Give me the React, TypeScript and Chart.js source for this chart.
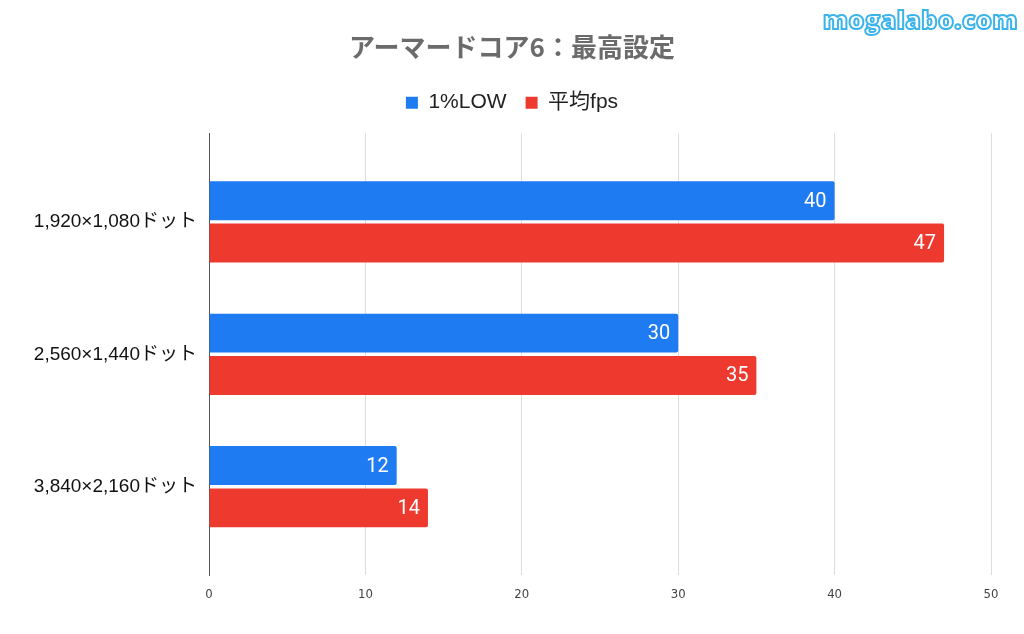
import React, { useEffect, useRef } from "react";
import { Chart, registerables } from "chart.js";

Chart.register(...registerables);

const categories = ["1,920×1,080ドット", "2,560×1,440ドット", "3,840×2,160ドット"];
const seriesNames = ["1%LOW", "平均fps"];
const lowValues = [40, 30, 12];
const avgValues = [47, 35, 14];
const xTicks = [0, 10, 20, 30, 40, 50];
const titleText = "アーマードコア6：最高設定";
const watermark = "mogalabo.com";

const BLUE = "#1e7bf2";
const RED = "#ee3a2e";
const FONT = "'Liberation Sans', Arial, 'Noto Sans CJK JP', sans-serif";

const valueLabels = {
  id: "valueLabels",
  afterDatasetsDraw(chart: any) {
    const ctx = chart.ctx;
    ctx.save();
    ctx.fillStyle = "#ffffff";
    ctx.font = "20px Roboto, sans-serif";
    ctx.textAlign = "right";
    ctx.textBaseline = "middle";
    chart.data.datasets.forEach((ds: any, i: number) => {
      const meta = chart.getDatasetMeta(i);
      meta.data.forEach((bar: any, j: number) => {
        const v = ds.data[j].x;
        ctx.fillText(String(v), bar.x - 8, bar.y + 1);
      });
    });
    ctx.restore();
  },
};

const legendGap = {
  id: "legendGap",
  afterInit(chart: any) {
    const lg = chart.legend;
    if (lg) {
      const orig = lg.fit;
      lg.fit = function () {
        orig.call(this);
        this.height += 10;
      };
    }
  },
};

export default function App() {
  const ref = useRef<HTMLCanvasElement>(null);
  useEffect(() => {
    document.body.style.margin = "0";
    const c = ref.current!;
    const chart = new Chart(c, {
      type: "bar",
      data: {
        datasets: [
          {
            label: seriesNames[0],
            data: lowValues.map((v, i) => ({ x: v, y: i })),
            backgroundColor: BLUE,
            borderRadius: 2,
            borderSkipped: "start",
          },
          {
            label: seriesNames[1],
            data: avgValues.map((v, i) => ({ x: v, y: i })),
            backgroundColor: RED,
            borderRadius: 2,
            borderSkipped: "start",
          },
        ],
      },
      options: {
        indexAxis: "y",
        animation: false,
        responsive: false,
        maintainAspectRatio: false,
        categoryPercentage: 0.64,
        barPercentage: 0.92,
        layout: { padding: { left: 0, right: 0, top: 0, bottom: 21 } },
        plugins: {
          title: {
            display: true,
            text: titleText,
            color: "#6b6b6b",
            font: { family: "'Noto Sans CJK JP', sans-serif", size: 26, weight: "bold" },
            padding: { top: 32, bottom: 10 },
          },
          legend: {
            display: true,
            labels: {
              color: "#222222",
              font: { family: FONT, size: 21 },
              boxWidth: 12,
              boxHeight: 12,
              padding: 19,
            },
          },
          tooltip: { enabled: false },
        },
        scales: {
          x: {
            type: "linear",
            min: 0,
            max: 50,
            afterBuildTicks(scale: any) {
              scale.ticks = xTicks.map((v) => ({ value: v }));
            },
            afterFit(scale: any) {
              scale.paddingRight = 33;
            },
            grid: {
              color: (ctx: any) => (ctx.tick && ctx.tick.value === 0 ? "#555555" : "#dddddd"),
              drawTicks: false,
            },
            border: { display: false },
            ticks: {
              color: "#444444",
              font: { family: "'DejaVu Sans Condensed', 'Liberation Sans Narrow', sans-serif", size: 13 },
              padding: 11,
            },
          },
          y: {
            type: "linear",
            reverse: true,
            offset: false,
            min: -0.67,
            max: 2.67,
            afterBuildTicks(scale: any) {
              scale.ticks = categories.map((_, i) => ({ value: i }));
            },
            afterFit(scale: any) {
              scale.width = 209;
            },
            grid: { display: false, drawTicks: false, offset: false },
            border: { display: true, color: "#555555", width: 1 },
            ticks: {
              color: "#111111",
              font: { family: FONT, size: 19 },
              padding: 12,
              callback: (v: any) => categories[Math.round(Number(v))] ?? "",
            },
          },
        },
      } as any,
      plugins: [valueLabels, legendGap],
    });
    return () => chart.destroy();
  }, []);

  return (
    <div style={{ position: "relative", width: 1024, height: 634, background: "#ffffff" }}>
      <canvas ref={ref} width={1024} height={634} style={{ display: "block" }} />
      <div
        style={{
          position: "absolute",
          top: 2,
          right: 6,
          fontFamily: "'Open Sans', 'DejaVu Sans', sans-serif",
          fontWeight: 800,
          fontSize: 25,
          color: "#ffffff",
          WebkitTextStroke: "2px #3bb4ea",
          letterSpacing: 0.5,
        }}
      >
        {watermark}
      </div>
    </div>
  );
}
